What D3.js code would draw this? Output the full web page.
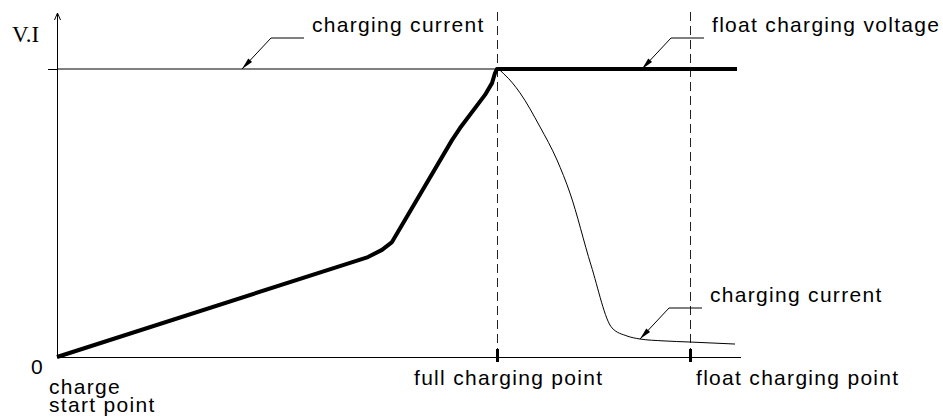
<!DOCTYPE html>
<html>
<head>
<meta charset="utf-8">
<script src="https://cdn.jsdelivr.net/npm/d3@7"></script>
<style>
  body { margin: 0; background: #fff; }
  svg text { font-family: "Liberation Sans", Arial, sans-serif; font-size: 21px; letter-spacing: 1.3px; fill: #000; }
</style>
</head>
<body>
<svg id="chart" width="943" height="419"></svg>
<script>
// charging voltage (thick line)
const voltageT = [0, 31.1, 32.5, 33.5, 39.5, 40.3, 42.8, 43.5, 43.8, 44.0, 68];
const voltageV = [0, 34.7, 37.2, 39.9, 75.3, 79.5, 91.0, 95.1, 98.6, 100, 100];

// charging current (thin line)
const currentT = [0, 44, 44.8, 46.3, 48.3, 50.0, 51.3, 53.4, 55.5, 57.0, 58.3, 60.6, 63.3, 67.8];
const currentI = [100, 100, 97.9, 91.7, 79.9, 68.4, 56.9, 31.9, 10.1, 7.3, 6.25, 5.6, 5.2, 4.5];

// vertical markers on the time axis
const markerNames = ['full charging point', 'float charging point'];
const markerT = [44, 63.3];

// leader labels: text and the point on the curve it points to
const noteText = ['charging current', 'float charging voltage', 'charging current'];
const noteT = [18.5, 58.5, 58.3];
const noteV = [100, 100, 6.25];

const svg = d3.select('#chart');

const x = d3.scaleLinear().domain([0, 68]).range([57, 737]);
const y = d3.scaleLinear().domain([0, 100]).range([357, 69]);

// x axis line
svg.append('line')
  .attr('x1', x(0)).attr('x2', 741)
  .attr('y1', y(0) + 0.5).attr('y2', y(0) + 0.5)
  .attr('stroke', '#000').attr('stroke-width', 1);

// y axis line with open arrow
svg.append('line')
  .attr('x1', x(0) + 0.5).attr('x2', x(0) + 0.5)
  .attr('y1', y(0)).attr('y2', 13)
  .attr('stroke', '#000').attr('stroke-width', 1);
svg.append('path')
  .attr('d', `M${x(0) - 2.5},20 L${x(0) + 0.5},13 L${x(0) + 3.5},20`)
  .attr('fill', 'none').attr('stroke', '#000').attr('stroke-width', 1);

// short tick on the y axis at the set level
const yAxis = d3.axisLeft(y).tickValues([100]).tickSize(9).tickFormat('');
const gy = svg.append('g').attr('transform', `translate(${x(0)},0)`).call(yAxis);
gy.select('.domain').remove();
gy.selectAll('.tick line').attr('stroke', '#000');

svg.append('text')
  .attr('x', 12).attr('y', 42)
  .style('font-family', '"Liberation Serif", "DejaVu Serif", serif')
  .style('font-size', '23px')
  .style('letter-spacing', '0px')
  .text('V.I');

svg.append('text').attr('x', 31).attr('y', 374).style('letter-spacing', '0px').text('0');
svg.append('text').attr('x', 49).attr('y', 394).text('charge');
svg.append('text').attr('x', 49).attr('y', 412).text('start point');

// dashed marker lines, ticks and labels
markerT.forEach((t, i) => {
  svg.append('line')
    .attr('x1', Math.round(x(t)) + 0.5).attr('x2', Math.round(x(t)) + 0.5)
    .attr('y1', 12).attr('y2', y(0))
    .attr('stroke', '#222').attr('stroke-width', 1)
    .attr('stroke-dasharray', '9,5');
  svg.append('line')
    .attr('x1', Math.round(x(t)) + 0.5).attr('x2', Math.round(x(t)) + 0.5)
    .attr('y1', 349).attr('y2', 362)
    .attr('stroke', '#000').attr('stroke-width', 3);
  svg.append('text')
    .attr('x', x(t) - (i === 0 ? 83 : -6))
    .attr('y', 385)
    .text(markerNames[i]);
});

// current line
const currentLine = d3.line()
  .x((d, i) => x(currentT[i]))
  .y((d) => y(d))
  .curve(d3.curveMonotoneX);
svg.append('path')
  .attr('d', currentLine(currentI))
  .attr('fill', 'none').attr('stroke', '#000').attr('stroke-width', 1);

// voltage line
const voltageLine = d3.line()
  .x((d, i) => x(voltageT[i]))
  .y((d) => y(d));
svg.append('path')
  .attr('d', voltageLine(voltageV))
  .attr('fill', 'none').attr('stroke', '#000')
  .attr('stroke-width', 4)
  .attr('stroke-linejoin', 'round');

// leaders with filled arrowheads
noteText.forEach((txt, i) => {
  const tx = x(noteT[i]);
  const ty = y(noteV[i]);
  const ex = tx + 29;
  const ey = ty - 31;
  const hx = ex + 33;
  svg.append('path')
    .attr('d', `M${hx},${ey} L${ex},${ey} L${tx},${ty}`)
    .attr('fill', 'none').attr('stroke', '#000').attr('stroke-width', 1);
  const ang = Math.atan2(ey - ty, ex - tx);
  const len = 12, hw = 2.6;
  const bx = tx + len * Math.cos(ang);
  const by = ty + len * Math.sin(ang);
  const px = -Math.sin(ang) * hw;
  const py = Math.cos(ang) * hw;
  svg.append('path')
    .attr('d', `M${tx},${ty} L${bx + px},${by + py} L${bx - px},${by - py} Z`)
    .attr('fill', '#000');
  svg.append('text')
    .attr('x', hx + 8)
    .attr('y', ey - 6)
    .text(txt);
});
</script>
</body>
</html>
